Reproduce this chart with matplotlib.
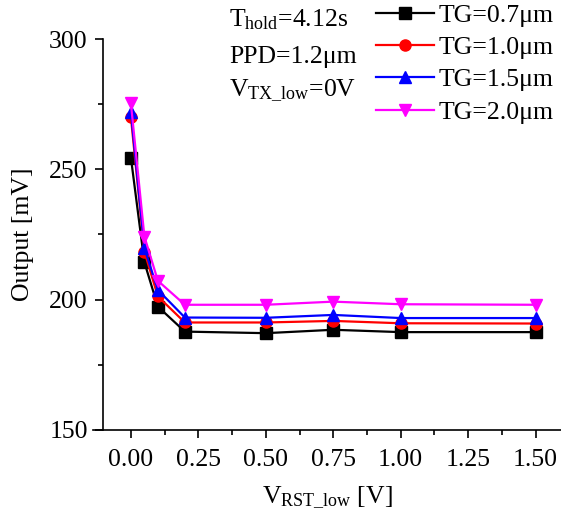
import matplotlib
matplotlib.use("Agg")
import matplotlib.pyplot as plt

plt.rcParams['font.family'] = ['Liberation Serif', 'DejaVu Serif']
plt.rcParams['mathtext.fontset'] = 'custom'
plt.rcParams['mathtext.rm'] = 'Liberation Serif'
plt.rcParams['mathtext.it'] = 'Liberation Serif:italic'

v_rst = [0.0, 0.05, 0.1, 0.2, 0.5, 0.75, 1.0, 1.5]
tg07 = [254.5, 214.3, 197.3, 187.7, 187.1, 188.4, 187.5, 187.5]
tg10 = [270.0, 218.4, 201.2, 191.2, 191.2, 191.8, 190.9, 190.8]
tg15 = [272.1, 219.7, 203.7, 193.1, 193.0, 194.1, 192.9, 192.9]
tg20 = [275.3, 224.2, 207.2, 198.0, 198.0, 199.2, 198.2, 198.0]

labels = ['TG=0.7μm', 'TG=1.0μm', 'TG=1.5μm', 'TG=2.0μm']
colors = ['black', 'red', 'blue', 'magenta']
markers = ['s', 'o', '^', 'v']
series = [tg07, tg10, tg15, tg20]

notes = ['T$_{\\mathrm{hold}}$=4.12s', 'PPD=1.2μm', 'V$_{\\mathrm{TX\\_low}}$=0V']
note_y = [1.031, 0.939, 0.852]

fs = 18.5

fig = plt.figure(figsize=(5.61, 5.16), dpi=100)
ax = fig.add_axes([0.166, 0.167, 0.834, 0.7574])

for ys, c, m, lab in zip(series, colors, markers, labels):
    ax.plot(v_rst, ys, color=c, marker=m, markersize=8, linewidth=1.6, label=lab)

ax.set_xlim(-0.14, 1.594)
ax.set_ylim(150, 300)
ax.spines['top'].set_visible(False)
ax.spines['right'].set_visible(False)
ax.spines['left'].set_position(('data', -0.103))
ax.spines['left'].set_linewidth(1.2)
ax.spines['bottom'].set_linewidth(1.2)

ax.set_xticks([0, 0.25, 0.5, 0.75, 1.0, 1.25, 1.5])
ax.set_xticklabels(['0.00', '0.25', '0.50', '0.75', '1.00', '1.25', '1.50'])
ax.set_xticks([0.125, 0.375, 0.625, 0.875, 1.125, 1.375], minor=True)
ax.set_yticks([150, 200, 250, 300])
ax.set_yticks([175, 225, 275], minor=True)
ax.tick_params(which='major', direction='out', length=6, width=1.2, labelsize=fs, pad=5)
ax.tick_params(axis='x', which='major', pad=8)
ax.tick_params(which='minor', direction='out', length=3.5, width=1.2)

ax.set_ylabel('Output [mV]', fontsize=fs, labelpad=11)
ax.set_xlabel('V$_{\\mathrm{RST\\_low}}$ [V]', fontsize=fs, labelpad=10)

for t, yy in zip(notes, note_y):
    ax.text(0.29, yy, t, transform=ax.transAxes, fontsize=fs, va='baseline', ha='left')

ax.legend(loc='upper right', bbox_to_anchor=(0.985, 1.09), frameon=False, fontsize=fs,
          handlelength=2.25, handletextpad=0.2, labelspacing=0.36, borderaxespad=0,
          borderpad=0)

fig.savefig('out.png', dpi=100)
